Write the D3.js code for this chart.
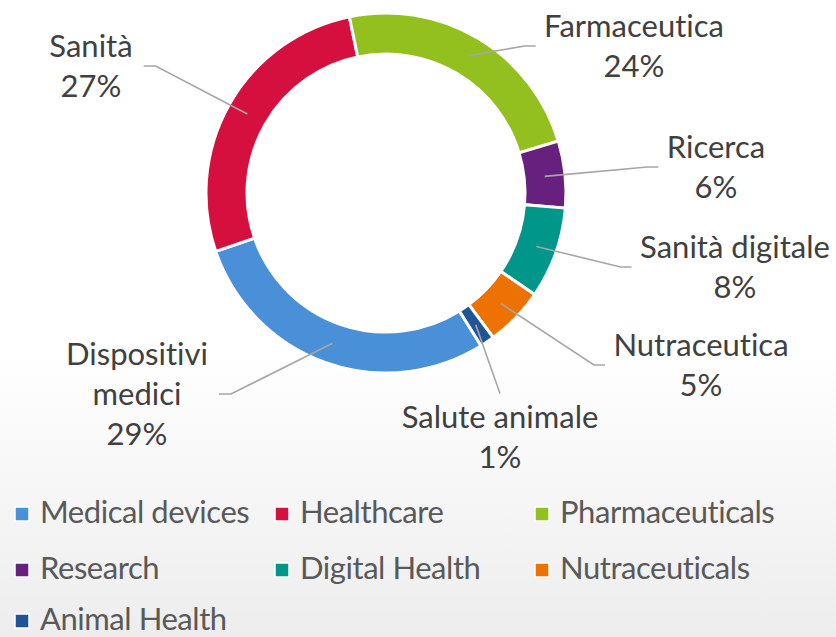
<!DOCTYPE html>
<html>
<head>
<meta charset="utf-8">
<script src="https://cdn.jsdelivr.net/npm/d3@7"></script>
<style>
  html, body { margin: 0; padding: 0; background: #fff; }
  svg { display: block; }
  text { font-family: Lato, "Open Sans", sans-serif; font-variant-ligatures: none; }
</style>
</head>
<body>
<svg id="chart" width="836" height="637"></svg>
<script>
// ---- data ----
const categories = ["Medical devices", "Healthcare", "Pharmaceuticals", "Research", "Digital Health", "Nutraceuticals", "Animal Health"];
const labelsIt = [["Dispositivi", "medici"], ["Sanità"], ["Farmaceutica"], ["Ricerca"], ["Sanità digitale"], ["Nutraceutica"], ["Salute animale"]];
const values = [28.6, 27.0, 23.6, 6.0, 8.2, 5.3, 1.3];
const colors = ["#4A90D9", "#D5103E", "#93C01F", "#68207F", "#00968A", "#EE7203", "#1F5596"];

// ---- layout (label anchors: centre x, first baseline, side of leader) ----
const labelLayout = [
  { cx: 137, y: 365, side: "left" },
  { cx: 91,  y: 57,  side: "left" },
  { cx: 634, y: 37,  side: "right" },
  { cx: 716, y: 158, side: "right" },
  { cx: 735, y: 258, side: "right" },
  { cx: 701, y: 356, side: "right" },
  { cx: 500, y: 428, side: "top" }
];

const W = 836, H = 637;
const cx = 386, cy = 193, R = 180, r = 139;
const startDeg = 148.1;
const fontSize = 31, lineH = 40, capH = 22;

const svg = d3.select("#chart");
const defs = svg.append("defs");
const grad = defs.append("linearGradient").attr("id", "bg").attr("x1", 0).attr("y1", 0).attr("x2", 0).attr("y2", 1);
grad.append("stop").attr("offset", "0").attr("stop-color", "#ffffff");
grad.append("stop").attr("offset", "0.55").attr("stop-color", "#ffffff");
grad.append("stop").attr("offset", "1").attr("stop-color", "#ededed");
svg.append("rect").attr("width", W).attr("height", H).attr("fill", "url(#bg)");

const total = d3.sum(values);
const pie = d3.pie().sort(null)
  .startAngle(startDeg * Math.PI / 180)
  .endAngle(startDeg * Math.PI / 180 + 2 * Math.PI);
const arcs = pie(values);
const arc = d3.arc().innerRadius(r).outerRadius(R);
const midArc = d3.arc().innerRadius((r + R) / 2).outerRadius((r + R) / 2);

const g = svg.append("g").attr("transform", `translate(${cx},${cy})`);
g.selectAll("path.slice").data(arcs).join("path")
  .attr("class", "slice")
  .attr("d", arc)
  .attr("fill", (d, i) => colors[i])
  .attr("stroke", "#ffffff")
  .attr("stroke-width", 3)
  .attr("stroke-linejoin", "miter");

// ---- data labels ----
const labelG = svg.append("g");
const lineG = svg.append("g");
arcs.forEach((d, i) => {
  const L = labelLayout[i];
  const lines = labelsIt[i].concat([Math.round(d.value / total * 100) + "%"]);
  const t = labelG.append("text")
    .attr("text-anchor", "middle")
    .attr("font-size", fontSize)
    .attr("fill", "#404040");
  lines.forEach((s, k) => {
    t.append("tspan").attr("x", L.cx).attr("y", L.y + k * lineH).text(s);
  });
  let maxW = 0;
  t.selectAll("tspan").each(function () { maxW = Math.max(maxW, this.getComputedTextLength()); });
  const left = L.cx - maxW / 2, right = L.cx + maxW / 2;
  const lastBase = L.y + (lines.length - 1) * lineH;
  const midY = (L.y - capH + lastBase) / 2;
  const c = midArc.centroid(d);
  const p0 = [cx + c[0], cy + c[1]];
  let pts;
  if (L.side === "left") {
    const ex = right + 11;
    pts = [p0, [ex + 12, midY], [ex, midY]];
  } else if (L.side === "right") {
    const ex = left - 8.5;
    pts = [p0, [ex - 11, midY], [ex, midY]];
  } else {
    pts = [p0, [L.cx, L.y - capH - 12.5]];
  }
  lineG.append("path")
    .attr("d", d3.line()(pts))
    .attr("fill", "none")
    .attr("stroke", "#a6a6a6")
    .attr("stroke-width", 1.6);
});

// ---- legend ----
const legendCols = [15, 275, 535];
const legendRowY = [523, 579, 630];
const leg = svg.append("g");
categories.forEach((name, i) => {
  const col = i % 3, row = Math.floor(i / 3);
  const x = legendCols[col], yb = legendRowY[row];
  leg.append("rect")
    .attr("x", x).attr("y", yb - 16)
    .attr("width", 14).attr("height", 14)
    .attr("fill", colors[i])
    .attr("stroke", "#ffffff").attr("stroke-width", 1.5);
  leg.append("text")
    .attr("x", x + 25).attr("y", yb)
    .attr("font-size", fontSize)
    .attr("letter-spacing", -0.45)
    .attr("fill", "#595959")
    .text(name);
});
</script>
</body>
</html>
